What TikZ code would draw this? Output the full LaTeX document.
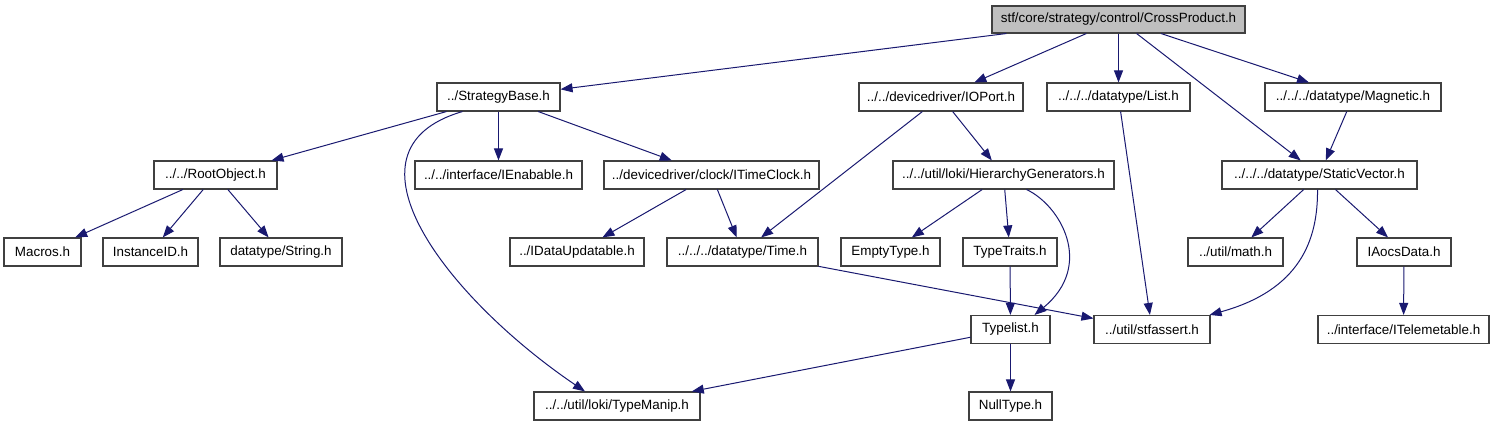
\documentclass[tikz,border=0pt]{standalone}
\usepackage{fontspec}
\setmainfont{Liberation Sans}
\usetikzlibrary{arrows.meta}
\definecolor{edgeblue}{HTML}{191970}
\definecolor{boxline}{HTML}{404040}
\definecolor{rootfill}{HTML}{BFBFBF}
\tikzset{
  box/.style={draw=boxline, line width=1.1pt, rectangle, inner sep=0pt, minimum height=28pt, font=\fontsize{13.4}{15}\selectfont, text=black, fill=white},
  dep/.style={draw=edgeblue, line width=1pt, -{Triangle[length=12pt,width=9pt]}},
}
\begin{document}
\begin{tikzpicture}[x=1pt, y={(0pt,-1pt)}]
\useasboundingbox (0,0) rectangle (1495,427);
% row 1
\node[box, fill=rootfill, minimum width=253pt, minimum height=27pt] (cp) at (1118.5,19.5) {stf/core/strategy/control/CrossProduct.h};
% row 2
\node[box, minimum width=123pt] (sb) at (498.5,97) {../StrategyBase.h};
\node[box, minimum width=164pt] (io) at (941,97) {../../devicedriver/IOPort.h};
\node[box, minimum width=143pt] (li) at (1118.5,97) {../../../datatype/List.h};
\node[box, minimum width=176pt] (mg) at (1353,97) {../../../datatype/Magnetic.h};
% row 3
\node[box, minimum width=123pt] (ro) at (215.5,175) {../../RootObject.h};
\node[box, minimum width=167pt] (ie) at (498.5,175) {../../interface/IEnabable.h};
\node[box, minimum width=215pt] (tc) at (711.5,175) {../devicedriver/clock/ITimeClock.h};
\node[box, minimum width=221pt] (hg) at (1003.5,175) {../../util/loki/HierarchyGenerators.h};
\node[box, minimum width=195pt] (sv) at (1319.5,175) {../../../datatype/StaticVector.h};
% row 4
\node[box, minimum width=77pt] (mac) at (42.5,252) {Macros.h};
\node[box, minimum width=95pt] (iid) at (150.5,252) {InstanceID.h};
\node[box, minimum width=122pt] (str) at (281,252) {datatype/String.h};
\node[box, minimum width=134pt] (idu) at (577,252) {../IDataUpdatable.h};
\node[box, minimum width=151pt] (tim) at (742.5,252) {../../../datatype/Time.h};
\node[box, minimum width=99pt] (emp) at (890.5,252) {EmptyType.h};
\node[box, minimum width=94pt] (tt) at (1010,252) {TypeTraits.h};
\node[box, minimum width=95pt] (mat) at (1235.5,252) {../util/math.h};
\node[box, minimum width=94pt] (iao) at (1404,252) {IAocsData.h};
% row 5
\node[box, minimum width=79pt] (tl) at (1010.5,329.5) {Typelist.h};
\node[box, minimum width=116pt] (sa) at (1152,329.5) {../util/stfassert.h};
\node[box, minimum width=171pt] (itl) at (1403.5,329.5) {../interface/ITelemetable.h};
% row 6
\node[box, minimum width=166pt] (tm) at (617,406) {../../util/loki/TypeManip.h};
\node[box, minimum width=83pt] (nt) at (1010.5,406) {NullType.h};
% edges
\draw[dep] (cp) -- (sb);
\draw[dep] (cp) -- (io);
\draw[dep] (cp) -- (li);
\draw[dep] (cp) -- (sv);
\draw[dep] (cp) -- (mg);
\draw[dep] (sb) -- ([xshift=-6pt]ro.north east);
\draw[dep] (sb) -- (ie);
\draw[dep] (sb) -- (tc);
\draw[dep] ([xshift=-36pt]sb.south) .. controls (330,150) and (450,300) .. ([xshift=-32pt]tm.north);
\draw[dep] (ro) -- (mac);
\draw[dep] (ro) -- (iid);
\draw[dep] (ro) -- (str);
\draw[dep] (tc) -- (idu);
\draw[dep] (tc) -- (tim);
\draw[dep] (io) -- (tim);
\draw[dep] (io) -- (hg);
\draw[dep] (hg) -- (emp);
\draw[dep] (hg) -- (tt);
\draw[dep] ([xshift=23pt]hg.south) .. controls (1060,205) and (1095,265) .. ([xshift=24pt]tl.north);
\draw[dep] (tt) -- (tl);
\draw[dep] (tl) -- (tm);
\draw[dep] (tl) -- (nt);
\draw[dep] (tim) -- (sa);
\draw[dep] (li) -- (sa);
\draw[dep] (mg) -- (sv);
\draw[dep] (sv) -- (mat);
\draw[dep] (sv) -- (iao);
\draw[dep] ([xshift=-2pt]sv.south) .. controls (1318,240) and (1300,290) .. ([xshift=-1pt]sa.north east);
\draw[dep] (iao) -- (itl);
\end{tikzpicture}
\end{document}
